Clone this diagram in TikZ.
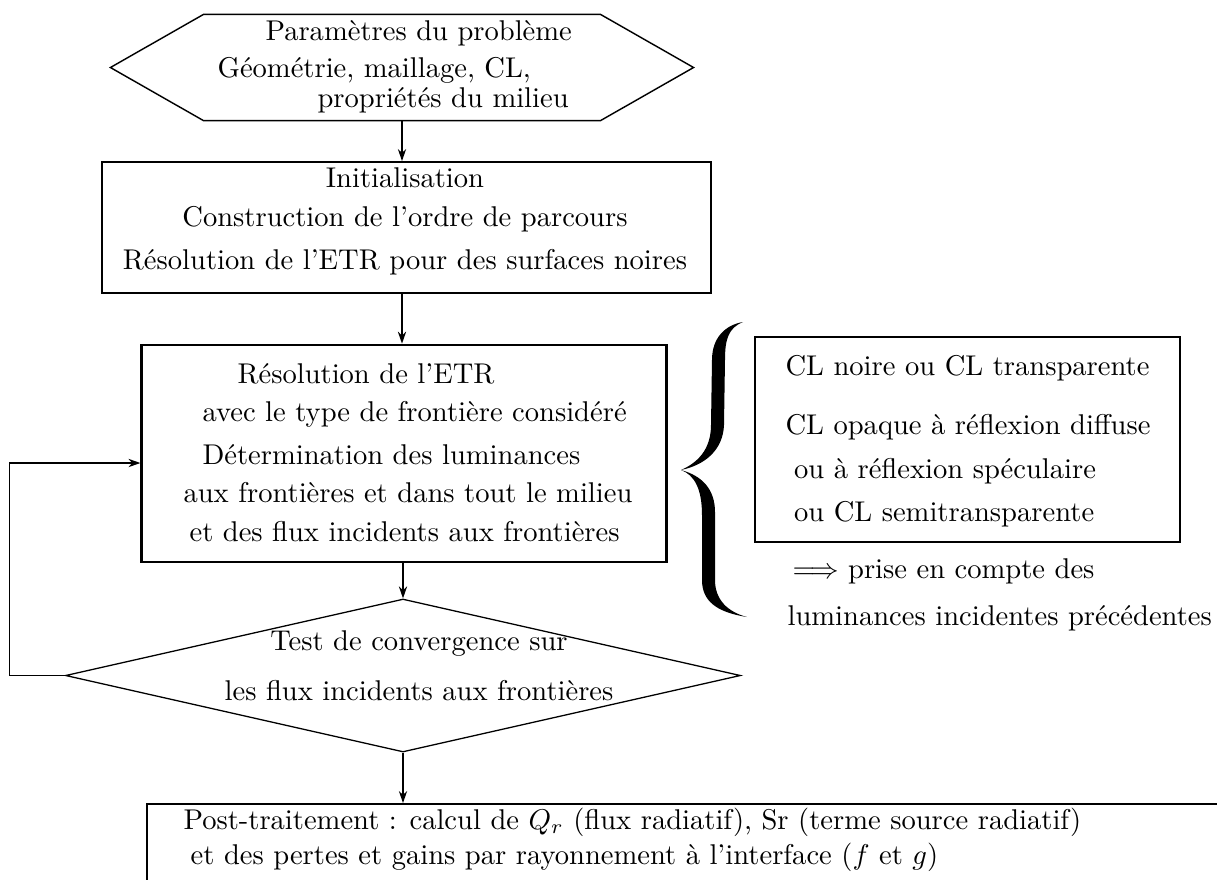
\documentclass[tikz,border=0pt]{standalone}
\usepackage{fontspec}
\usepackage{amsmath}
\usetikzlibrary{arrows.meta,positioning,shapes.geometric}

\begin{document}
\begin{tikzpicture}[
  x=0.35pt, y=-0.35pt,
  font=\normalsize,
  box/.style  ={rectangle, draw=black, line width=0.7pt, inner sep=0pt},
  test/.style ={diamond, draw=black, line width=0.45pt, inner sep=0pt},
  txt/.style  ={inner sep=0pt, anchor=north west, align=left},
  ctxt/.style ={inner sep=0pt, anchor=north, align=center},
  arr/.style  ={-{Stealth[length=4.2pt, width=2.9pt]}, line width=0.45pt}
]
\useasboundingbox (0,0) rectangle (1217,879);
\clip (0,0) rectangle (1217,879);

% blocs
\node[minimum width=582*0.35pt, minimum height=105*0.35pt, inner sep=0pt] (param) at (402,67.5) {};
\draw[line width=0.5pt] (param.west) -- ([xshift=93*0.35pt]param.north west)
  -- ([xshift=-93*0.35pt]param.north east) -- (param.east)
  -- ([xshift=-93*0.35pt]param.south east) -- ([xshift=93*0.35pt]param.south west) -- cycle;
\node[box, minimum width=609*0.35pt, minimum height=131*0.35pt] (init) at (406.3,227.5) {};
\node[box, line width=0.95pt, minimum width=525*0.35pt, minimum height=217*0.35pt] (resol) at (404.3,453.5) {};
\node[test, minimum width=675*0.35pt, minimum height=153*0.35pt] (conv) at (403,675.5) {};
\node[box, minimum width=425*0.35pt, minimum height=205*0.35pt] (cl) at (967.5,439.5) {};
\node[box, minimum width=1113*0.35pt, minimum height=116*0.35pt] (post) at (703.5,862) {};

% textes
\node[txt] (paramtxt) at (217,20) {\hspace*{16.8pt}Paramètres du problème\\[0.85pt]
  Géométrie, maillage, CL,\\[-1.4pt]\hspace*{35pt}propriétés du milieu};
\node[ctxt] (inittxt) at (405,166.7) {Initialisation\\[1.76pt]
  Construction de l’ordre de parcours\\[3.16pt]Résolution de l’ETR pour des surfaces noires};
\node[txt] (resoltxt) at (183,363) {\hspace*{18.9pt}Résolution de l’ETR\\[1.3pt]
  \hspace*{6.65pt}avec le type de frontière considéré\\[3.05pt]
  \hspace*{6.65pt}Détermination des luminances\\[1.3pt]
  aux frontières et dans tout le milieu\\[1.65pt]
  \hspace*{2.1pt}et des flux incidents aux frontières};
\node[ctxt] (convtxt) at (419,630) {Test de convergence sur\\[5.5pt]les flux incidents aux frontières};
\node[txt] (cltxt) at (785,355) {CL noire ou CL transparente\\[8.65pt]
  CL opaque à réflexion diffuse\\[3.4pt]
  \hspace*{3pt}ou à réflexion spéculaire\\[3.05pt]
  \hspace*{3pt}ou CL semitransparente};
\node[txt] (prise) at (787,558) {\hspace*{1.75pt}$\Longrightarrow$ prise en compte des\\[4.45pt]
  luminances incidentes précédentes};
\node[txt] (posttxt) at (183,807.6) {Post-traitement : calcul de $Q_r$ (flux radiatif), Sr (terme source radiatif)\\[0.25pt]
  \hspace*{2.5pt}et des pertes et gains par rayonnement à l’interface ($f$ et $g$)};

% fleches
\draw[arr] (param.south) -- (param.south |- init.north);
\draw[arr] (param.south |- init.south) -- (param.south |- resol.north);
\draw[arr] (conv.north |- resol.south) -- (conv.north);
\draw[arr] (conv.south) -- (conv.south |- post.north);
\coordinate (retour) at ([yshift=-9.5*0.35pt]resol.west);
\draw[arr] (conv.west) -- ++(-55.3,0) |- (retour);

% accolade
\fill (743,322) .. controls (728,328) and (725,340) .. (725,360)
  -- (724,425) .. controls (723,450) and (705,465) .. (681,470)
  .. controls (703,476) and (715,490) .. (715,512)
  -- (715,580) .. controls (715,600) and (728,612) .. (747,617)
  .. controls (715,612) and (702,600) .. (702,580)
  -- (702,515) .. controls (702,490) and (695,475) .. (681,470)
  .. controls (697,463) and (711,450) .. (711,425)
  -- (712,360) .. controls (712,338) and (725,325) .. (743,322) -- cycle;
\end{tikzpicture}
\end{document}
